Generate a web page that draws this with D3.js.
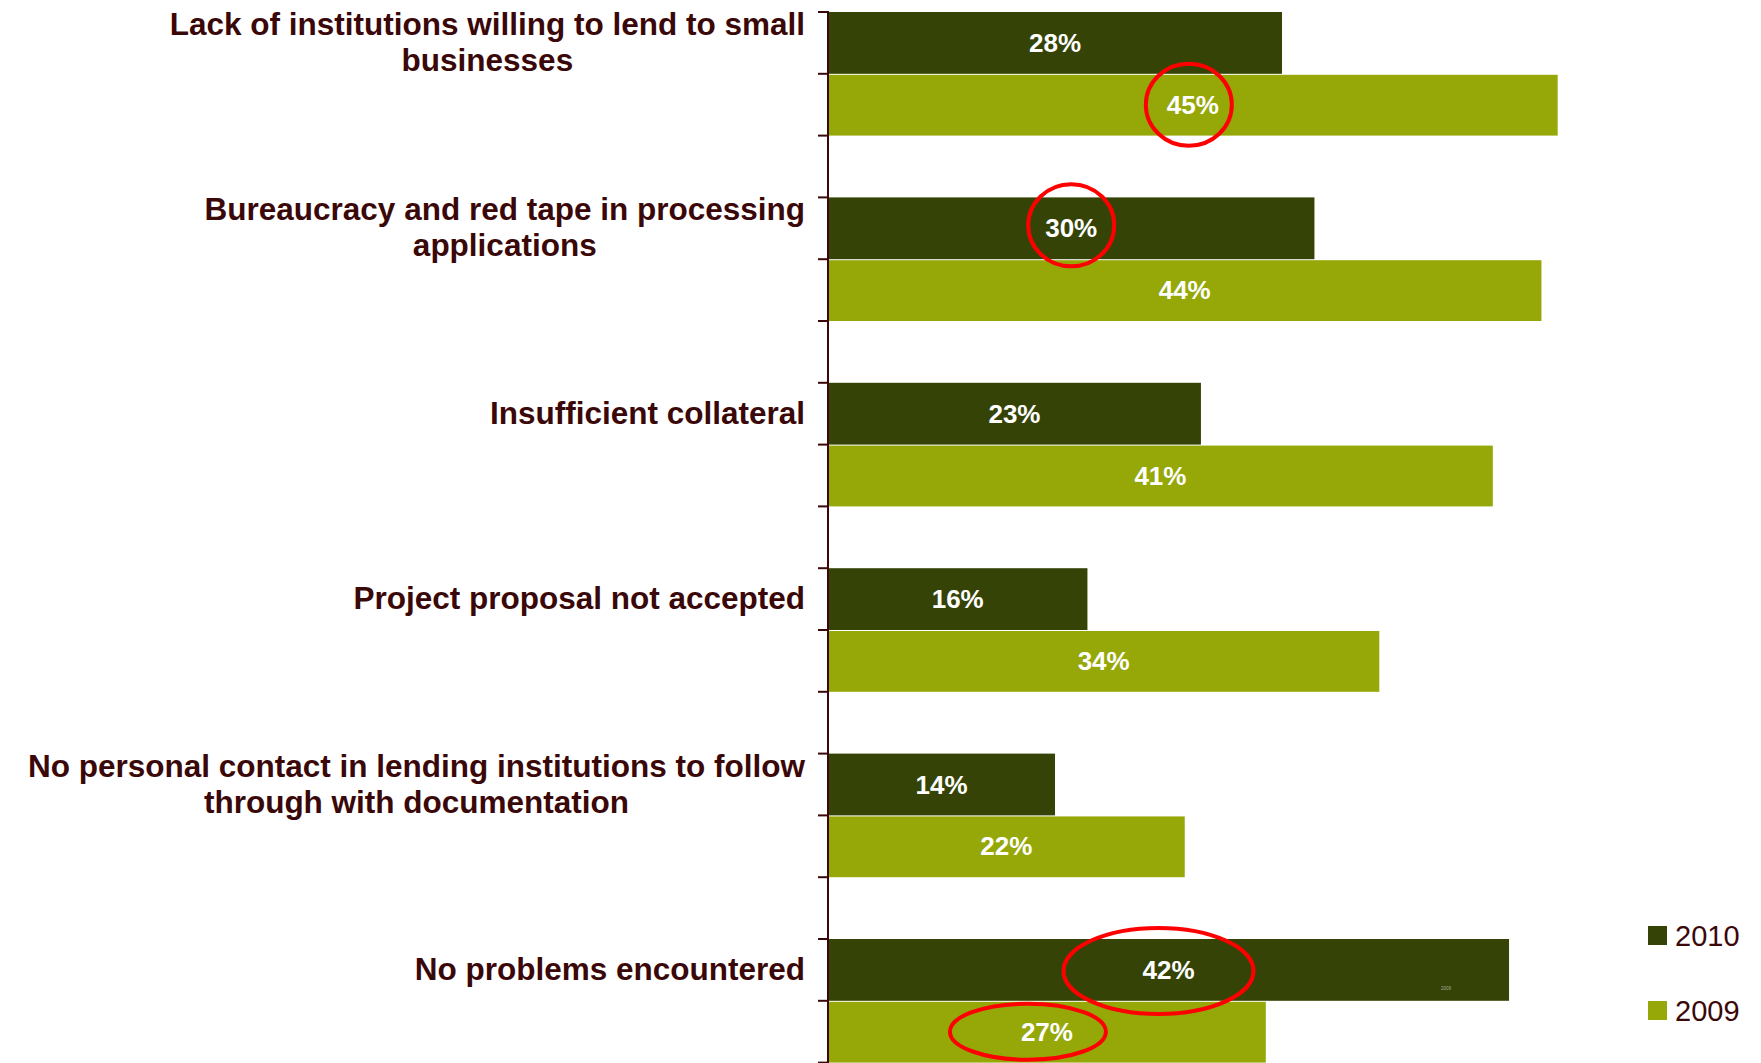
<!DOCTYPE html>
<html>
<head>
<meta charset="utf-8">
<script src="https://cdn.jsdelivr.net/npm/d3@7"></script>
<style>
  html, body { margin: 0; padding: 0; background: #ffffff; }
  svg { display: block; }
</style>
</head>
<body>
<svg id="chart" width="1761" height="1063"></svg>
<script>
// ---- data ----
const categories = [
  ["Lack of institutions willing to lend to small", "businesses"],
  ["Bureaucracy and red tape in processing", "applications"],
  ["Insufficient collateral"],
  ["Project proposal not accepted"],
  ["No personal contact in lending institutions to follow", "through with documentation"],
  ["No problems encountered"]
];
const seriesNames = ["2010", "2009"];
const values2010 = [28, 30, 23, 16, 14, 42];
const values2009 = [45, 44, 41, 34, 22, 27];
// highlighted (circled) values: [category index, series name]
const highlights = [[0, "2009"], [1, "2010"], [5, "2010"], [5, "2009"]];

// ---- styles / layout ----
const W = 1761, H = 1063;
const colors = { "2010": "#354406", "2009": "#95a808" };
const textColor = "#3a0808";
const axisX = 828;
const pxPerPct = 16.215;
const step = 185.4;
const firstBarTop = 12;

const svg = d3.select("#chart");
const catKeys = categories.map((c, i) => i);
const seriesValues = { "2010": values2010, "2009": values2009 };

const x = d3.scaleLinear().domain([0, 50]).range([axisX, axisX + 50 * pxPerPct]);
const y0 = d3.scaleBand()
  .domain(catKeys)
  .range([firstBarTop - step / 6, firstBarTop - step / 6 + step * categories.length])
  .paddingInner(1 / 3).paddingOuter(1 / 6);
const y1 = d3.scaleBand().domain(seriesNames).range([0, y0.bandwidth()]);

const rows = [];
catKeys.forEach(i => seriesNames.forEach(s => rows.push({ cat: i, series: s, value: seriesValues[s][i] })));

// bars
svg.append("g").selectAll("rect").data(rows).join("rect")
  .attr("x", x(0))
  .attr("y", d => y0(d.cat) + y1(d.series) + (d.series === "2009" ? 1 : 0))
  .attr("width", d => x(d.value) - x(0))
  .attr("height", d => y1.bandwidth() - (d.series === "2009" ? 1 : 0))
  .attr("fill", d => colors[d.series]);

// value labels
svg.append("g").selectAll("text").data(rows).join("text")
  .attr("x", d => (x(0) + x(d.value)) / 2)
  .attr("y", d => y0(d.cat) + y1(d.series) + y1.bandwidth() / 2)
  .attr("text-anchor", "middle")
  .attr("dominant-baseline", "central")
  .attr("font-family", "Liberation Sans, Arial, sans-serif")
  .attr("font-weight", "bold")
  .attr("font-size", 26)
  .attr("fill", "#ffffff")
  .text(d => d.value + "%");

// axis line + ticks
const axisG = svg.append("g");
axisG.append("line")
  .attr("x1", axisX).attr("x2", axisX)
  .attr("y1", y0(0) - 1).attr("y2", H)
  .attr("stroke", textColor).attr("stroke-width", 2);
const tickYs = [];
catKeys.forEach(i => { for (let k = 0; k < 3; k++) tickYs.push(y0(i) + k * y1.bandwidth()); });
axisG.selectAll("line.tick").data(tickYs).join("line")
  .attr("class", "tick")
  .attr("x1", axisX - 10).attr("x2", axisX)
  .attr("y1", d => d).attr("y2", d => d)
  .attr("stroke", textColor).attr("stroke-width", 2);

// category labels (right aligned block, lines centered to each other)
const labelRight = 805;
const lineH = 36;
const labG = svg.append("g")
  .attr("font-family", "Liberation Sans, Arial, sans-serif")
  .attr("font-weight", "bold")
  .attr("font-size", 31.5)
  .attr("fill", textColor);
categories.forEach((lines, i) => {
  const cy = y0(i) + y1("2010") + y1.bandwidth() / 2 - 1;
  const g = labG.append("g");
  const texts = lines.map((ln, k) => g.append("text")
    .attr("y", cy + (k - (lines.length - 1) / 2) * lineH)
    .attr("dominant-baseline", "central")
    .attr("text-anchor", "middle")
    .text(ln));
  const maxW = d3.max(texts, t => t.node().getComputedTextLength());
  texts.forEach(t => t.attr("x", labelRight - maxW / 2));
});

// red highlight ellipses
const ellipseGeom = [
  { rx: 43, ry: 41, dx: -4, dy: 0 },
  { rx: 43, ry: 41, dx: 0, dy: -3 },
  { rx: 95, ry: 43, dx: -10, dy: 1 },
  { rx: 78, ry: 28, dx: -19, dy: 0 }
];
svg.append("g").selectAll("ellipse").data(highlights).join("ellipse")
  .attr("cx", (d, k) => (x(0) + x(seriesValues[d[1]][d[0]])) / 2 + ellipseGeom[k].dx)
  .attr("cy", (d, k) => y0(d[0]) + y1(d[1]) + y1.bandwidth() / 2 + ellipseGeom[k].dy)
  .attr("rx", (d, k) => ellipseGeom[k].rx)
  .attr("ry", (d, k) => ellipseGeom[k].ry)
  .attr("fill", "none")
  .attr("stroke", "#ff0000")
  .attr("stroke-width", 4);

// stray tiny text inside last bar (as in original)
svg.append("text")
  .attr("x", 1446).attr("y", y0(5) + y1.bandwidth() * 0.8)
  .attr("text-anchor", "middle")
  .attr("dominant-baseline", "central")
  .attr("font-family", "Liberation Sans, Arial, sans-serif")
  .attr("font-size", 4.5)
  .attr("fill", "#a8a890")
  .text("2009");

// legend
const legend = svg.append("g").selectAll("g").data(seriesNames).join("g")
  .attr("transform", (d, i) => `translate(1648, ${926 + i * 75})`);
legend.append("rect").attr("width", 19).attr("height", 19).attr("fill", d => colors[d]);
legend.append("text")
  .attr("x", 27).attr("y", 10)
  .attr("dominant-baseline", "central")
  .attr("font-family", "Liberation Sans, Arial, sans-serif")
  .attr("font-size", 29)
  .attr("fill", textColor)
  .text(d => d);
</script>
</body>
</html>
